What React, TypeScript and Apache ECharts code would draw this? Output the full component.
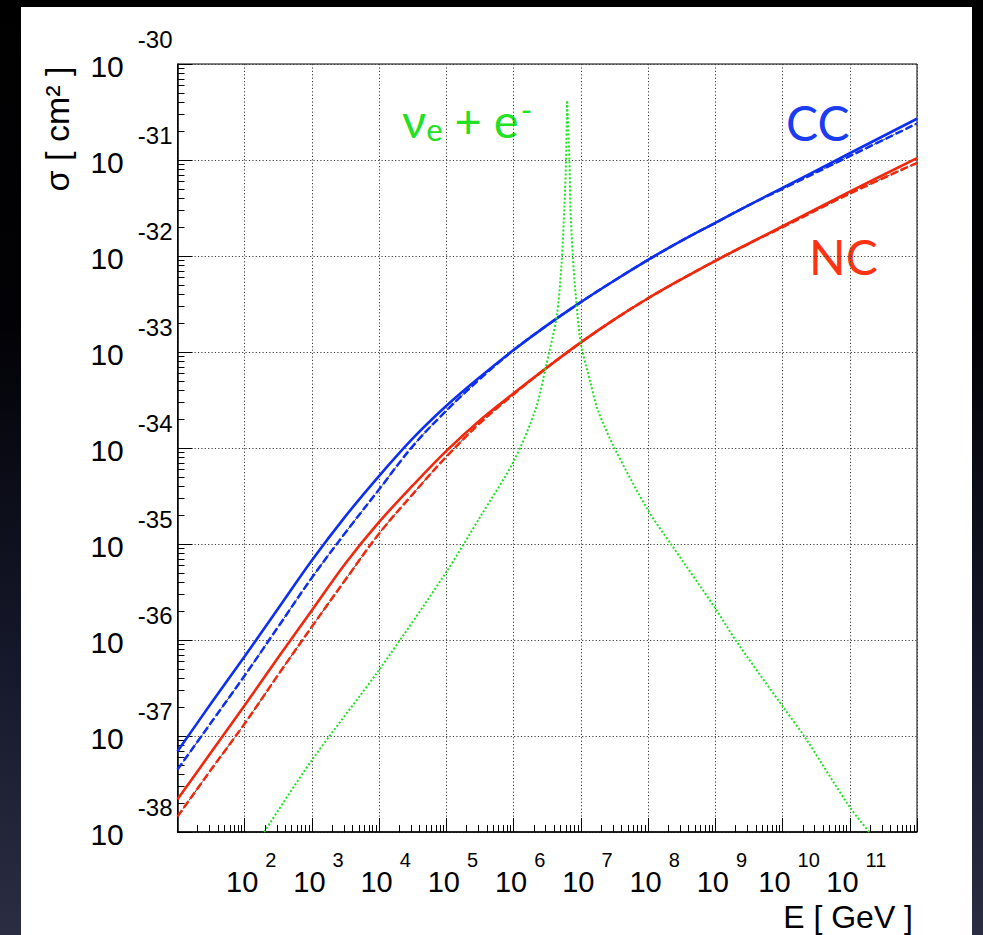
import React, { useEffect, useRef } from 'react';
import * as echarts from 'echarts';

// log10(E / GeV) sample points shared by the CC / NC curves
const logE = [1, 1.5, 2, 2.5, 3, 3.5, 4, 4.5, 5, 5.5, 6, 6.5, 7, 7.5, 8, 8.5, 9, 9.5, 10, 11, 12];
// log10(sigma / cm^2)
const ccSolid = [-37.16, -36.66, -36.17, -35.67, -35.17, -34.71, -34.29, -33.9, -33.56, -33.26, -32.98, -32.72, -32.48, -32.255, -32.04, -31.84, -31.655, -31.47, -31.29, -30.93, -30.57];
const ccDashed = [-37.35, -36.86, -36.37, -35.86, -35.35, -34.88, -34.43, -33.98, -33.61, -33.28, -32.98, -32.72, -32.48, -32.255, -32.04, -31.84, -31.655, -31.47, -31.3, -30.96, -30.62];
const ncSolid = [-37.66, -37.17, -36.68, -36.18, -35.69, -35.2, -34.77, -34.39, -34.03, -33.71, -33.43, -33.16, -32.9, -32.66, -32.44, -32.24, -32.05, -31.87, -31.69, -31.33, -30.98];
const ncDashed = [-37.84, -37.35, -36.87, -36.36, -35.86, -35.37, -34.89, -34.48, -34.09, -33.74, -33.44, -33.16, -32.9, -32.66, -32.44, -32.24, -32.05, -31.87, -31.7, -31.35, -31.03];

// nu_e + e- (Glashow resonance): rising branch and falling branch
const glashowRiseLogE = [2.29, 3.0, 4.0, 5.0, 5.5, 6.0, 6.33, 6.48, 6.64, 6.71, 6.755, 6.78, 6.795];
const glashowRiseLogSigma = [-38.0, -37.25, -36.31, -35.29, -34.72, -34.14, -33.59, -33.15, -32.63, -32.11, -31.49, -31.0, -30.39];
const glashowFallLogE = [6.795, 6.83, 6.845, 6.88, 6.93, 7.0, 7.14, 7.25, 7.5, 8.0, 8.34, 9.0, 9.3, 10.0, 10.32, 11.0, 11.29];
const glashowFallLogSigma = [-30.39, -31.0, -31.5, -32.0, -32.46, -32.91, -33.31, -33.6, -34.0, -34.65, -35.0, -35.67, -36.0, -36.69, -37.0, -37.74, -38.0];

// axis decades (exponents)
const xDecades = [1, 2, 3, 4, 5, 6, 7, 8, 9, 10, 11, 12];
const yDecades = [-38, -37, -36, -35, -34, -33, -32, -31, -30];
const minorMultipliers = [2, 3, 4, 5, 6, 7, 8, 9];

const FONT = '"Liberation Sans", Arial, Helvetica, sans-serif';
const LABEL_FONT = 'Lato, "Noto Sans", sans-serif';
const BLUE = '#0d2ff0';
const RED = '#f0280c';
const GREEN = '#22e022';
const GRID_COLOR = '#3a3a3a';

// x: real energies on a log axis; y: log10(sigma) on a linear axis labelled 10^n
const pts = (xs: number[], ys: number[]) => xs.map((x, i) => [Math.pow(10, x), ys[i]]);
const dec = (n: number) => Number(`1e${n}`);
const xMinors = () => {
  const out: number[] = [];
  for (let i = 0; i < xDecades.length - 1; i++) {
    for (const k of minorMultipliers) out.push(Number(`${k}e${xDecades[i]}`));
  }
  return out;
};
const yMinors = () => {
  const out: number[] = [];
  for (let i = 0; i < yDecades.length - 1; i++) {
    for (const k of minorMultipliers) out.push(yDecades[i] + Math.log10(k));
  }
  return out;
};

const gridRect = { left: 177.5, top: 64, right: 66, bottom: 103 };

function buildOption(): any {
  const xMajor = xDecades.map(dec);
  const xMin = xMajor[0];
  const xMax = xMajor[xMajor.length - 1];
  const yMin = yDecades[0];
  const yMax = yDecades[yDecades.length - 1];

  const exp = (v: number) => Math.round(Math.log10(v));

  const line = (name: string, data: number[][], color: string, width: number, type: any, z: number, smooth: number | boolean) => ({
    name,
    type: 'line',
    data,
    showSymbol: false,
    symbol: 'none',
    smooth,
    z,
    silent: true,
    lineStyle: { color, width, type },
  });

  return {
    animation: false,
    backgroundColor: 'transparent',
    grid: [
      { ...gridRect, show: true, borderColor: '#000', borderWidth: 1, backgroundColor: 'transparent', outerBoundsMode: 'none', containLabel: false },
      { ...gridRect, show: false, outerBoundsMode: 'none', containLabel: false },
    ],
    xAxis: [
      {
        type: 'log',
        logBase: 10,
        gridIndex: 0,
        min: xMin,
        max: xMax,
        position: 'bottom',
        axisLine: { show: true, lineStyle: { color: '#000', width: 1.5 } },
        axisTick: { show: true, inside: true, length: 14, lineStyle: { color: '#000', width: 1 }, customValues: xMajor },
        splitLine: { show: true, lineStyle: { color: GRID_COLOR, width: 1, type: [1.2, 2.2] } },
        axisLabel: {
          show: true,
          customValues: xMajor,
          margin: 18,
          formatter: (v: number) => {
            const n = exp(v);
            if (n <= 1 || n >= 12) return '';
            return `{b|10}{s|${n}}`;
          },
          rich: {
            b: { fontSize: 29, fontFamily: FONT, color: '#000', padding: [0, 0, 0, 13] },
            s: { fontSize: 20, fontFamily: FONT, color: '#000', padding: [0, 0, 44, 7] },
          },
        },
      },
      {
        type: 'log',
        logBase: 10,
        gridIndex: 1,
        min: xMin,
        max: xMax,
        position: 'bottom',
        axisLine: { show: false },
        axisTick: { show: true, inside: true, length: 7, lineStyle: { color: '#000', width: 1 }, customValues: xMinors() },
        splitLine: { show: false },
        axisLabel: { show: false },
      },
    ],
    yAxis: [
      {
        type: 'value',
        gridIndex: 0,
        min: yMin,
        max: yMax,
        interval: 1,
        position: 'left',
        axisLine: { show: true, lineStyle: { color: '#000', width: 1.5 } },
        axisTick: { show: true, inside: true, length: 15, lineStyle: { color: '#000', width: 1 } },
        splitLine: { show: true, lineStyle: { color: GRID_COLOR, width: 1, type: [1.2, 2.2] } },
        axisLabel: {
          show: true,
          margin: 5,
          formatter: (v: number) => `{b|10}{s|${Math.round(v)}}`,
          rich: {
            b: { fontSize: 30, fontFamily: FONT, color: '#000', padding: [4, 14, 0, 0] },
            s: { fontSize: 24, fontFamily: FONT, color: '#000', padding: [0, 0, 50, 0] },
          },
        },
      },
      {
        type: 'value',
        gridIndex: 1,
        min: yMin,
        max: yMax,
        interval: 1,
        position: 'left',
        axisLine: { show: false },
        axisTick: { show: true, inside: true, length: 7, lineStyle: { color: '#000', width: 1 }, customValues: yMinors() },
        splitLine: { show: false },
        axisLabel: { show: false },
      },
    ],
    series: [
      line('CC thin', pts(logE, ccDashed), '#000', 0.8, [3, 2], 2, 0.35),
      line('NC thin', pts(logE, ncDashed), '#000', 0.8, [3, 2], 2, 0.35),
      line('CC dashed', pts(logE, ccDashed), BLUE, 2.5, [8, 3], 3, 0.35),
      line('NC dashed', pts(logE, ncDashed), RED, 2.5, [8, 3], 3, 0.35),
      line('CC', pts(logE, ccSolid), BLUE, 2.6, 'solid', 4, 0.35),
      line('NC', pts(logE, ncSolid), RED, 2.6, 'solid', 4, 0.35),
      line('nu_e + e- rise', pts(glashowRiseLogE, glashowRiseLogSigma), GREEN, 2, [2, 2], 5, 0.3),
      line('nu_e + e- fall', pts(glashowFallLogE, glashowFallLogSigma), GREEN, 2, [2, 2], 5, 0.3),
    ],
    graphic: [
      {
        type: 'text',
        x: 786,
        y: 122,
        silent: true,
        style: { text: 'CC', fill: '#1a3cf2', font: `48px ${LABEL_FONT}`, textAlign: 'left', textVerticalAlign: 'middle' },
      },
      {
        type: 'text',
        x: 809,
        y: 256,
        silent: true,
        style: { text: 'NC', fill: '#ff3311', font: `48px ${LABEL_FONT}`, textAlign: 'left', textVerticalAlign: 'middle' },
      },
      {
        type: 'text',
        x: 402,
        y: 120,
        silent: true,
        style: {
          text: '{m|ν}{sub|e}{m| + e}{sup|-}',
          textAlign: 'left',
          textVerticalAlign: 'middle',
          rich: {
            m: { fontSize: 47, fontFamily: LABEL_FONT, fill: GREEN },
            sub: { fontSize: 31, fontFamily: LABEL_FONT, fill: GREEN, padding: [18, 0, 0, 0] },
            sup: { fontSize: 31, fontFamily: LABEL_FONT, fill: GREEN, padding: [0, 0, 22, 2] },
          },
        },
      },
      {
        type: 'text',
        x: 57,
        y: 129,
        rotation: Math.PI / 2,
        silent: true,
        style: { text: 'σ [ cm² ]', fill: '#000', font: `34px ${FONT}`, textAlign: 'center', textVerticalAlign: 'middle' },
      },
      {
        type: 'text',
        x: 913,
        y: 917,
        silent: true,
        style: { text: 'E [ GeV ]', fill: '#000', font: `32px ${FONT}`, textAlign: 'right', textVerticalAlign: 'middle' },
      },
    ],
  };
}

export default function App() {
  const ref = useRef<HTMLDivElement>(null);
  useEffect(() => {
    if (!ref.current) return;
    const chart = echarts.init(ref.current, null, { renderer: 'svg' });
    chart.setOption(buildOption());
    return () => chart.dispose();
  }, []);
  return (
    <div
      style={{
        position: 'absolute',
        left: 0,
        top: 0,
        width: 983,
        height: 935,
        overflow: 'hidden',
        background: 'linear-gradient(180deg, #000 0%, #020206 35%, #15182a 70%, #2b2e42 100%)',
      }}
    >
      <div style={{ position: 'absolute', left: 21, top: 7, width: 951, height: 940, background: '#fff' }} />
      <div ref={ref} style={{ position: 'absolute', left: 0, top: 0, width: 983, height: 935 }} />
    </div>
  );
}
